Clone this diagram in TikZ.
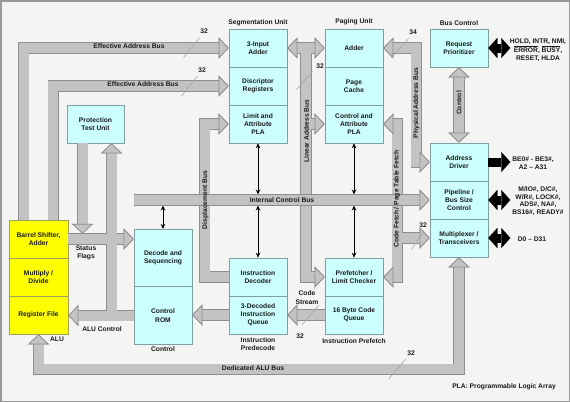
\documentclass[tikz,border=0pt]{standalone}
\usepackage{fontspec}
\setmainfont{Liberation Sans}
\usetikzlibrary{arrows.meta,calc}

\definecolor{fond}{HTML}{F4F4F2}
\definecolor{cyanbloc}{HTML}{CCFFFF}
\definecolor{bordbloc}{HTML}{7E9EA4}
\definecolor{jaunebloc}{HTML}{FFFF00}
\definecolor{bordjaune}{HTML}{A0A060}
\definecolor{busgris}{HTML}{C3C3C3}
\definecolor{busbord}{HTML}{8E8E8E}

\begin{document}
\begin{tikzpicture}[x=1pt,y=-1pt,
    bustip/.tip={Triangle[width=21pt,length=10pt,line width=0.7pt,color=busbord,fill=busgris]},
    noirtip/.tip={Triangle[width=20pt,length=9pt,line width=0.1pt]},
    pointe/.tip={Stealth[length=5pt,width=4.5pt]}]
  \tikzstyle{bloc}=[draw=bordbloc, fill=cyanbloc, line width=0.6pt, minimum width=58pt,
    minimum height=38pt, align=center, inner sep=1pt, text=black!90,
    font=\fontsize{6.7}{8.2}\selectfont\bfseries]
  \tikzstyle{alu}=[bloc, fill=jaunebloc, draw=bordjaune, minimum width=59pt]
  \tikzstyle{etiq}=[align=center, inner sep=0.5pt, text=black!90,
    font=\fontsize{6.7}{8.2}\selectfont\bfseries]
  \tikzstyle{busedge}=[draw=busbord, line width=11.4pt, line join=miter]
  \tikzstyle{busfill}=[draw=busgris, line width=10pt, line join=miter]
  \tikzstyle{noir}=[draw=black, line width=9pt]
  \tikzstyle{fleche}=[draw=black, line width=0.9pt, pointe-pointe]
  \tikzstyle{trait}=[draw=gray!70, line width=0.6pt]

  \useasboundingbox (0,0) rectangle (570,402);
  \fill[fond] (0,0) rectangle (570,402);
  \draw[gray!80, line width=1.5pt] (0.75,0.75) rectangle (569.25,401.25);

  % segmentation unit
  \node[bloc] (sa) at (258,48) {3-Input\\Adder};
  \node[bloc] (sd) at (258,86) {Discriptor\\Registers};
  \node[bloc] (sp) at (258,124) {Limit and\\Attribute\\PLA};
  % paging unit
  \node[bloc] (pa) at (354,48) {Adder};
  \node[bloc] (pc) at (354,86) {Page\\Cache};
  \node[bloc] (pp) at (354,124) {Control and\\Attribute\\PLA};
  % bus control
  \node[bloc] (rp) at (459,48) {Request\\Prioritizer};
  \node[bloc] (ad) at (459,162) {Address\\Driver};
  \node[bloc] (pl) at (459,200) {Pipeline /\\Bus Size\\Control};
  \node[bloc] (mx) at (459,238) {Multiplexer /\\Transceivers};
  \node[bloc, minimum width=57pt] (ptu) at (95.5,124) {Protection\\Test Unit};
  % ALU
  \node[alu] (al1) at (38.5,239) {Barrel Shifter,\\Adder};
  \node[alu] (al2) at (38.5,277) {Multiply /\\Divide};
  \node[alu] (al3) at (38.5,315) {Register File};
  % control
  \node[bloc, minimum height=57.5pt] (dc) at (163,258) {Decode and\\Sequencing};
  \node[bloc, minimum height=57.5pt] (cr) at (163,315.5) {Control\\ROM};
  % predecode and prefetch
  \node[bloc] (id) at (258,277) {Instruction\\Decoder};
  \node[bloc] (iq) at (258,315) {3-Decoded\\Instruction\\Queue};
  \node[bloc] (pf) at (354,277) {Prefetcher /\\Limit Checker};
  \node[bloc] (cq) at (354,315) {16 Byte Code\\Queue};

  \coordinate (lin) at ($(sa.east)!0.5!(pa.west)$);
  \coordinate (cf) at ($(pp.east)+(14,0)$);
  \coordinate (pu) at ($(ptu.south)+(16,0)$);
  \coordinate (icb) at (dc.west |- pl.west);

  % buses: edges first, then fill
  \foreach \passe in {busedge,busfill}{
    \begin{scope}[bus/.style/.expanded=\passe]
      \draw[bus,-bustip] ($(al1.north west)+(15,0)$) |- (sa.west);
      \draw[bus,-bustip] ($(al1.north west)+(44.5,0)$) |- (sd.west);
      \draw[bus,bustip-bustip] (sa.east) -- (pa.west);
      \draw[bus,-bustip] (lin) |- (pf.west);
      \draw[bus,-bustip] (lin |- pp.west) -- (pp.west);
      \draw[bus,bustip-bustip] (pa.east) -- ++(33,0) |- (ad.west);
      \draw[bus,bustip-bustip] (pp.east) -- (cf) |- (pf.east);
      \draw[bus,-bustip] (cf |- mx.west) -- (mx.west);
      \draw[bus,bustip-bustip] (rp.south) -- (ad.north);
      \draw[bus,-bustip] (id.west) -- ++(-24,0) |- (sp.west);
      \draw[bus,-bustip] (pu |- cr.west) -- (pu);
      \draw[bus,-bustip] ($(ptu.south)+(-13,0)$) -- ++(0,90.5);
      \draw[bus,-bustip] (al1.east) -- (al1.east -| dc.west);
      \draw[bus,-bustip] (cr.west) -- (cr.west -| al3.east);
      \draw[bus,-bustip] (iq.west) -- (iq.west -| cr.east);
      \draw[bus,-bustip] (cq.west) -- (iq.east);
      \draw[bus,bustip-bustip] (al3.south) -- ++(0,35) -| (mx.south);
    \end{scope}
  }
  % internal control bus on top
  \draw[busedge,-bustip] (icb) -- (pl.west);
  \draw[busfill,-bustip] (icb) -- (pl.west);

  \draw[fleche] (dc.north) -- ($(dc.north |- icb)+(0,5.5)$);
  \draw[fleche] (sp.south) -- ($(sp.south |- icb)+(0,-5.5)$);
  \draw[fleche] (id.north) -- ($(id.north |- icb)+(0,5.5)$);
  \draw[fleche] (pp.south) -- ($(pp.south |- icb)+(0,-5.5)$);
  \draw[fleche] (pf.north) -- ($(pf.north |- icb)+(0,5.5)$);

  % external pins
  \draw[noir,noirtip-noirtip] (rp.east) -- ++(22,0);
  \draw[noir,-noirtip] (ad.east) -- ++(22,0);
  \draw[noir,noirtip-noirtip] (pl.east) -- ++(22,0);
  \draw[noir,noirtip-noirtip] (mx.east) -- ++(22,0);
  \node[etiq] (hold) at (538,50) {HOLD, INTR, NMI,\\[0.5pt]$\overline{\hbox{ERROR}}$, $\overline{\hbox{BUSY}}$,\\RESET, HLDA};
  \node[etiq] (be) at (533,163) {BE0\# - BE3\#,\\A2 -- A31};
  \node[etiq, font=\fontsize{6.7}{7.8}\selectfont\bfseries] (mio) at (538,201)
    {M/IO\#, D/C\#,\\W/R\#, LOCK\#,\\ADS\#, NA\#,\\BS16\#, READY\#};
  \node[etiq] (dat) at (532,239) {D0 -- D31};

  % unit names
  \node[etiq] (segu) at (258,23) {Segmentation Unit};
  \node[etiq] (pagu) at (354,21.5) {Paging Unit};
  \node[etiq] (busc) at (459,23) {Bus Control};
  \node[etiq] (ctl) at (163,349.5) {Control};
  \node[etiq] (ipd) at (258,344) {Instruction\\Predecode};
  \node[etiq] (ipf) at (354,341.5) {Instruction Prefetch};
  \node[etiq] (alu) at (57,339) {ALU};
  \node[etiq] (stf) at (86,252.5) {Status\\Flags};
  \node[etiq] (aluc) at (102,329) {ALU Control};
  \node[etiq] (cst) at (307,297.5) {Code\\Stream};
  \node[etiq] (pla) at (504,387) {PLA: Programmable Logic Array};

  % bus names
  \node[etiq] (eab1) at (129,46.5) {Effective Address Bus};
  \node[etiq] (eab2) at (143,84.5) {Effective Address Bus};
  \node[etiq] (icbn) at (282,200.5) {Internal Control Bus};
  \node[etiq] (dab) at (253,368) {Dedicated ALU Bus};
  \node[etiq, rotate=90] (disp) at (205.5,200) {Displacement Bus};
  \node[etiq, rotate=90] (linb) at (306.5,131) {Linear Address Bus};
  \node[etiq, rotate=90] (phyb) at (416.5,103) {Physical Address Bus};
  \node[etiq, rotate=90] (cfb) at (397,199) {Code Fetch / Page Table Fetch};
  \node[etiq, rotate=90] (ctlb) at (459,103) {Control};

  % bus widths
  \node[etiq] (w1) at (204,31.5) {32};
  \draw[trait] ($(w1.south west)+(0,3)$) -- ++(-16,20);
  \node[etiq] (w2) at (202,70) {32};
  \draw[trait] ($(w2.south west)+(0,3)$) -- ++(-16,20);
  \node[etiq] (w3) at (320,66.5) {32};
  \draw[trait] ($(w3.south west)+(-3,2)$) -- ++(-16,18);
  \node[etiq] (w4) at (413,32) {34};
  \draw[trait] ($(w4.south west)+(0,3.5)$) -- ++(-17,19);
  \node[etiq] (w5) at (423,225) {32};
  \draw[trait] ($(w5.south west)+(5,2.5)$) -- ++(-12,19);
  \node[etiq] (w6) at (300,336) {32};
  \draw[trait] ($(w6.north)+(2,-8)$) -- ++(17,-20);
  \node[etiq] (w7) at (411,353) {32};
  \draw[trait] ($(w7.south west)+(-1,3)$) -- ++(-17,20);
\end{tikzpicture}
\end{document}
